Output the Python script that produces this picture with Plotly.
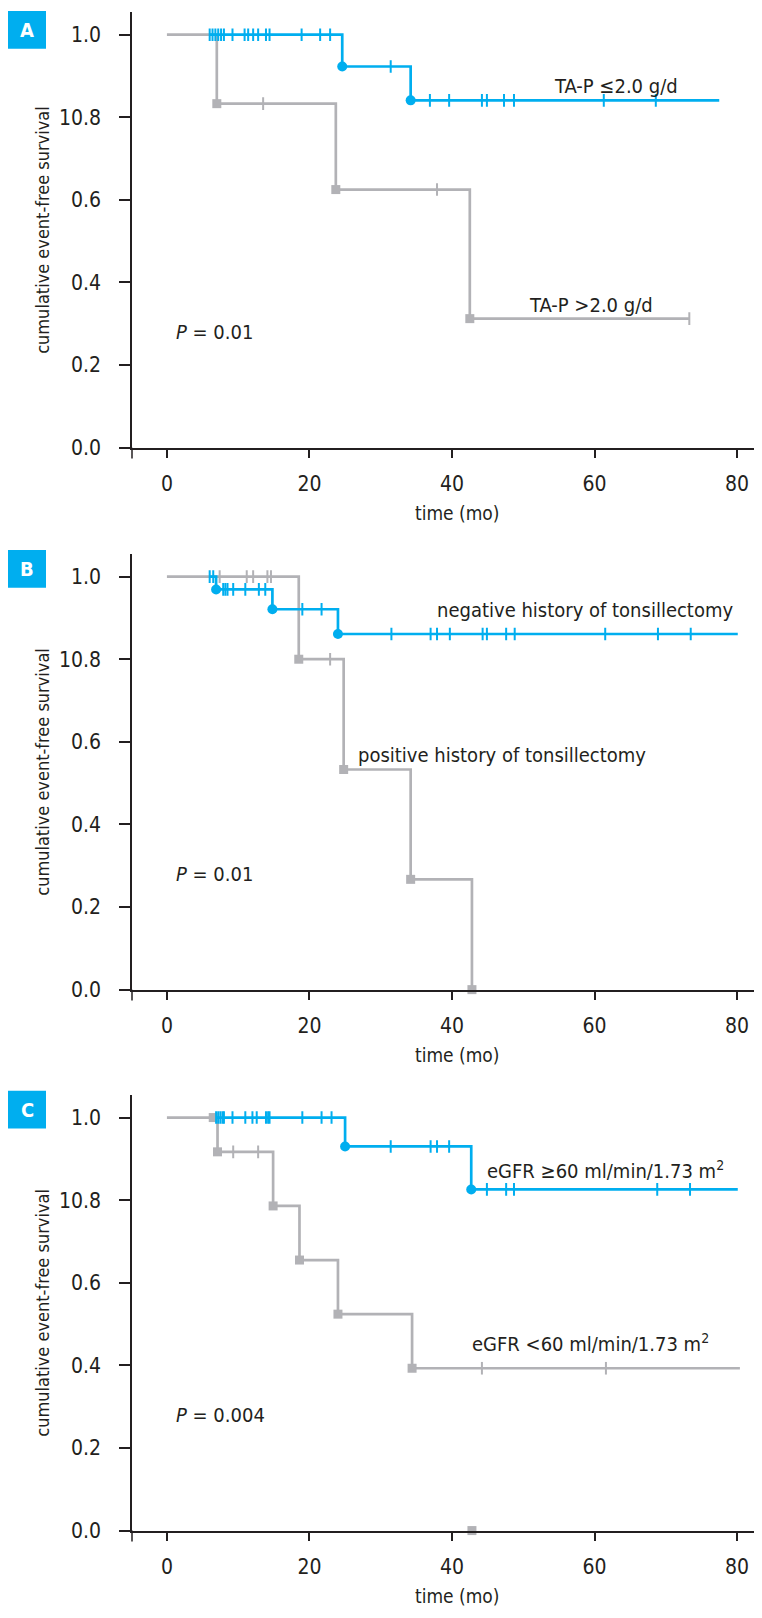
import plotly.graph_objects as go

# ---------------- data ----------------
y_tickvals = [0.0, 0.2, 0.4, 0.6, 0.8, 1.0]
y_ticktext = ["0.0", "0.2", "0.4", "0.6", "10.8", "1.0"]
x_tickvals = [0, 20, 40, 60, 80]

# Panel A
a_blue_start, a_blue_end = 6.0, 77.5
a_blue_event_t = [24.6, 34.2]
a_blue_event_s = [0.923, 0.841]
a_blue_cens = [6.0, 6.4, 6.8, 7.2, 7.6, 8.0, 9.2, 10.9, 11.4, 12.1, 12.8, 13.9, 14.4,
               18.9, 21.5, 22.9, 31.4, 36.9, 39.6, 44.2, 44.9, 47.3, 48.7, 61.3, 68.6]
a_gray_start, a_gray_end = 0.0, 73.3
a_gray_event_t = [7.0, 23.7, 42.5]
a_gray_event_s = [0.833, 0.625, 0.3125]
a_gray_cens = [13.5, 37.9, 73.3]

# Panel B
b_blue_start, b_blue_end = 6.0, 80.1
b_blue_event_t = [6.9, 14.8, 24.0]
b_blue_event_s = [0.969, 0.921, 0.861]
b_blue_cens = [6.0, 6.5, 7.9, 8.2, 8.5, 9.3, 11.0, 12.9, 13.8, 19.0, 21.7, 31.5, 37.0,
               37.9, 39.7, 44.3, 44.9, 47.6, 48.8, 61.5, 68.9, 73.5]
b_gray_start, b_gray_end = 0.0, 42.8
b_gray_event_t = [18.5, 24.8, 34.2, 42.8]
b_gray_event_s = [0.800, 0.533, 0.267, 0.0]
b_gray_cens = [7.4, 11.2, 12.1, 14.1, 14.6, 22.9]

# Panel C
c_blue_start, c_blue_end = 6.9, 80.1
c_blue_event_t = [25.0, 42.7]
c_blue_event_s = [0.930, 0.826]
c_blue_cens = [6.9, 7.2, 7.5, 7.8, 8.0, 9.2, 11.0, 12.0, 12.6, 13.9, 14.2, 14.4, 19.0,
               21.7, 23.1, 31.4, 37.0, 37.9, 39.6, 44.9, 47.6, 48.7, 68.8, 73.4]
c_gray_start, c_gray_end = 0.0, 80.4
c_gray_event_t = [7.1, 14.9, 18.6, 24.0, 34.4]
c_gray_event_s = [0.917, 0.786, 0.655, 0.524, 0.393]
c_gray_cens = [9.3, 12.8, 44.2, 61.6]
c_gray_extra_x = [6.5, 42.8]
c_gray_extra_y = [1.0, 0.0]

p_texts = ["<i>P</i> = 0.01", "<i>P</i> = 0.01", "<i>P</i> = 0.004"]
panel_letters = ["A", "B", "C"]
group_labels = [
    [("TA-P ≤2.0 g/d", 54.0, 0.875), ("TA-P &gt;2.0 g/d", 50.5, 0.345)],
    [("negative history of tonsillectomy", 37.6, 0.918),
     ("positive history of tonsillectomy", 26.5, 0.568)],
    [("eGFR ≥60 ml/min/1.73 m<sup>2</sup>", 44.6, 0.872),
     ("eGFR &lt;60 ml/min/1.73 m<sup>2</sup>", 42.5, 0.453)],
]

# ---------------- style ----------------
BLUE = "#00AEEF"
GRAY = "#B2B2B6"
INK = "#231F20"
FONT = "DejaVu Sans Condensed, DejaVu Sans, sans-serif"
OFF = 8                    # page body margin
W, H = 762 - OFF, 1618 - OFF
L = 132 - OFF
# plot areas in page pixels: (top, bottom)
panel_px = [(12, 451), (558, 997), (1103, 1542)]
box_py = [(11, 49), (554, 592), (1099, 1137)]


def px_x(px):
    return (px - OFF - L) / (W - L)


def px_y(py):
    return 1 - (py - OFF) / H


def surv_at(t, ev_t, ev_s):
    s = 1.0
    for et, es in zip(ev_t, ev_s):
        if et <= t:
            s = es
    return s


fig = go.Figure()

panels = [
    dict(blue=(a_blue_start, a_blue_end, a_blue_event_t, a_blue_event_s, a_blue_cens),
         gray=(a_gray_start, a_gray_end, a_gray_event_t, a_gray_event_s, a_gray_cens)),
    dict(blue=(b_blue_start, b_blue_end, b_blue_event_t, b_blue_event_s, b_blue_cens),
         gray=(b_gray_start, b_gray_end, b_gray_event_t, b_gray_event_s, b_gray_cens)),
    dict(blue=(c_blue_start, c_blue_end, c_blue_event_t, c_blue_event_s, c_blue_cens),
         gray=(c_gray_start, c_gray_end, c_gray_event_t, c_gray_event_s, c_gray_cens)),
]

annotations = []
shapes = []

for i, p in enumerate(panels):
    sfx = "" if i == 0 else str(i + 1)
    xa, ya = "x" + sfx, "y" + sfx
    for key, color, sym, msize in [("gray", GRAY, "square", 9), ("blue", BLUE, "circle", 10)]:
        start, end, ev_t, ev_s, cens = p[key]
        xs = [start] + list(ev_t)
        ys = [1.0] + list(ev_s)
        if end > xs[-1]:
            xs.append(end)
            ys.append(ys[-1])
        fig.add_trace(go.Scatter(x=xs, y=ys, mode="lines", line=dict(color=color, width=2.7, shape="hv"),
                                 xaxis=xa, yaxis=ya, showlegend=False, hoverinfo="skip"))
        fig.add_trace(go.Scatter(x=cens, y=[surv_at(c, ev_t, ev_s) for c in cens], mode="markers",
                                 marker=dict(symbol="line-ns", size=9, line=dict(color=color, width=2)),
                                 xaxis=xa, yaxis=ya, showlegend=False, hoverinfo="skip"))
        fig.add_trace(go.Scatter(x=ev_t, y=ev_s, mode="markers",
                                 marker=dict(symbol=sym, size=msize, color=color, line=dict(width=0)),
                                 xaxis=xa, yaxis=ya, showlegend=False, hoverinfo="skip", cliponaxis=False))
        if i == 2 and key == "gray":
            fig.add_trace(go.Scatter(x=c_gray_extra_x, y=c_gray_extra_y, mode="markers",
                                     marker=dict(symbol="square", size=9, color=GRAY),
                                     xaxis=xa, yaxis=ya, showlegend=False, hoverinfo="skip",
                                     cliponaxis=False))

    top, bot = panel_px[i]
    fig.layout["xaxis" + sfx] = dict(
        domain=[0, 1], range=[-4.9, 83.5], anchor=ya, tickvals=x_tickvals,
        showline=True, linecolor=INK, linewidth=1.5, ticks="outside", ticklen=9, tickwidth=1.5,
        tickcolor=INK, showgrid=False, zeroline=False, ticklabelstandoff=7,
        tickfont=dict(family=FONT, size=21, color=INK))
    fig.layout["yaxis" + sfx] = dict(
        domain=[px_y(bot), px_y(top)], range=[0, 1.055], anchor=xa,
        tickvals=y_tickvals, ticktext=y_ticktext,
        showline=True, linecolor=INK, linewidth=1.5, ticks="outside", ticklen=11, tickwidth=1.5,
        tickcolor=INK, showgrid=False, zeroline=False, ticklabelstandoff=14,
        tickfont=dict(family=FONT, size=21, color=INK))

    # y-axis line extension below the x axis
    shapes.append(dict(type="line", xref="paper", yref="paper", x0=0, x1=0,
                       y0=px_y(bot), y1=px_y(bot + 11), line=dict(color=INK, width=1.5)))

    # panel letter box
    b0, b1 = box_py[i]
    shapes.append(dict(type="rect", xref="paper", yref="paper", x0=px_x(8), x1=px_x(46),
                       y0=px_y(b1), y1=px_y(b0), fillcolor=BLUE, line=dict(width=0)))
    annotations.append(dict(xref="paper", yref="paper", x=px_x(27), y=px_y((b0 + b1) / 2),
                            text="<b>%s</b>" % panel_letters[i], showarrow=False,
                            font=dict(family=FONT, size=20, color="white"),
                            xanchor="center", yanchor="middle"))

    # axis titles
    annotations.append(dict(xref="paper", yref="paper", x=px_x(43), y=px_y((top + bot) / 2),
                            text="cumulative event-free survival", textangle=-90, showarrow=False,
                            font=dict(family=FONT, size=18, color=INK),
                            xanchor="center", yanchor="middle"))
    annotations.append(dict(xref="paper", yref="paper", x=px_x(457), y=px_y(bot + 66),
                            text="time (mo)", showarrow=False,
                            font=dict(family=FONT, size=19, color=INK),
                            xanchor="center", yanchor="middle"))

    # P value
    annotations.append(dict(xref=xa, yref=ya, x=1.0, y=0.28, text=p_texts[i], showarrow=False,
                            font=dict(family=FONT, size=20, color=INK),
                            xanchor="left", yanchor="middle"))
    # group labels
    for txt, gx, gy in group_labels[i]:
        annotations.append(dict(xref=xa, yref=ya, x=gx, y=gy, text=txt, showarrow=False,
                                font=dict(family=FONT, size=20, color=INK),
                                xanchor="left", yanchor="middle"))

fig.update_layout(width=W, height=H, margin=dict(l=L, r=0, t=0, b=0),
                  paper_bgcolor="white", plot_bgcolor="white",
                  annotations=annotations, shapes=shapes, showlegend=False)

fig.write_html("out.html")
